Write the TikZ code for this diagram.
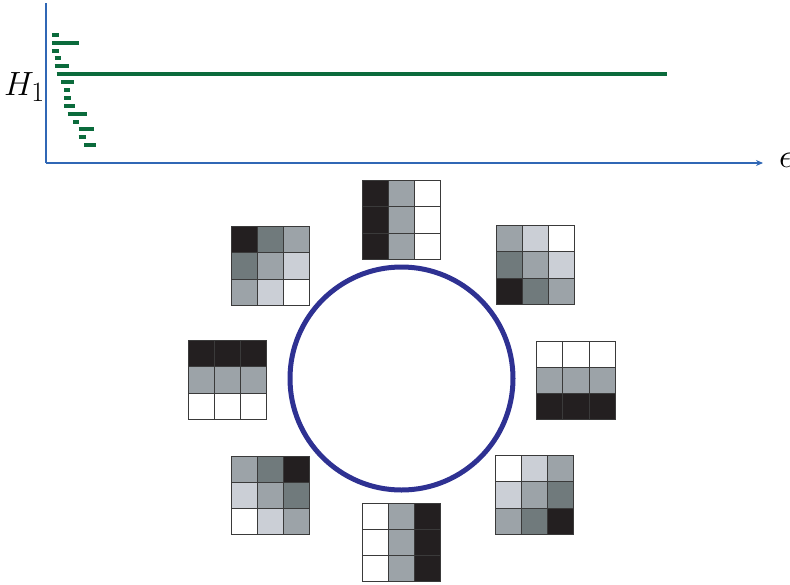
\documentclass[tikz,border=0pt]{standalone}
\usepackage{graphicx}
\usetikzlibrary{arrows.meta}
\definecolor{axisblue}{HTML}{3067B5}
\definecolor{bargreen}{HTML}{0B6B3C}
\definecolor{ringblue}{HTML}{2E3192}
\definecolor{cK}{HTML}{231F20}
\definecolor{cD}{HTML}{707A7C}
\definecolor{cG}{HTML}{9CA3A8}
\definecolor{cL}{HTML}{CBCFD6}
\definecolor{cW}{HTML}{FFFFFF}
\definecolor{gridline}{HTML}{3A3A3A}
\tikzset{
  axis/.style={draw=axisblue, line width=1.1pt},
  bar/.style={draw=bargreen, line width=4pt},
  ring/.style={draw=ringblue, line width=5pt},
  cell/.style={draw=gridline, line width=1pt},
  lbl/.style={inner sep=0pt, font=\fontsize{24.88}{30}\selectfont}
}
% \mypatch{x}{y}{r1c1,r1c2,...,r3c3}
\newcommand{\mypatch}[3]{%
  \foreach \c [count=\i from 0] in {#3} {%
    \pgfmathtruncatemacro{\row}{int(\i/3)}%
    \pgfmathtruncatemacro{\col}{mod(\i,3)}%
    \fill[\c] ({#1+\col*26.3},{#2+\row*26.3}) rectangle ++(26.3,26.3);%
  }%
  \foreach \k in {0,1,2,3} {%
    \draw[cell] ({#1+\k*26.3},{#2}) -- ++(0,78.9);%
    \draw[cell] ({#1},{#2+\k*26.3}) -- ++(78.9,0);%
  }%
}
\begin{document}
\begin{tikzpicture}[x=1pt,y=-1pt]
\useasboundingbox (0,0) rectangle (790,584);
% axes
\coordinate (top) at (46,3);
\coordinate (origin) at (46,163);
\coordinate (xend) at (763,163);
\draw[axis] (top) -- (origin);
\draw[axis, -{Stealth[length=7pt,width=6pt]}] (origin) -- (xend);
\node[lbl, anchor=west] (eps) at (779,160) {\scalebox{1.35}{$\epsilon$}};
\node[lbl, anchor=base west] (h1) at (4,95.5) {\scalebox{1.35}{$H_1$}};
% barcode
\foreach \y/\a/\b in {34.7/52.3/58.7, 42.7/52.3/78.7, 50.7/52.3/58.7, 58.3/54.7/61.3,
  66.3/54.7/68.7, 74/56.7/667, 81.7/61/74, 90/64/70.3, 98/64/71, 106/64/75.3,
  113.7/67.7/87, 121.7/73.3/79.3, 129.3/78.7/94.3, 137.3/78.7/85.7, 145.3/84.3/95.7}
  \draw[bar] (\a,\y) -- (\b,\y);
% ring
\node[circle, ring, minimum size=223pt, inner sep=0pt] (ringnode) at (401.5,378.5) {};
% patches
\mypatch{362}{180.5}{cK,cG,cW,cK,cG,cW,cK,cG,cW}
\mypatch{231}{226.5}{cK,cD,cG,cD,cG,cL,cG,cL,cW}
\mypatch{496}{225.5}{cG,cL,cW,cD,cG,cL,cK,cD,cG}
\mypatch{188}{340.5}{cK,cK,cK,cG,cG,cG,cW,cW,cW}
\mypatch{536.5}{341}{cW,cW,cW,cG,cG,cG,cK,cK,cK}
\mypatch{231}{456}{cG,cD,cK,cL,cG,cD,cW,cL,cG}
\mypatch{495}{455.5}{cW,cL,cG,cL,cG,cD,cG,cD,cK}
\mypatch{362}{503}{cW,cG,cK,cW,cG,cK,cW,cG,cK}
\end{tikzpicture}
\end{document}
